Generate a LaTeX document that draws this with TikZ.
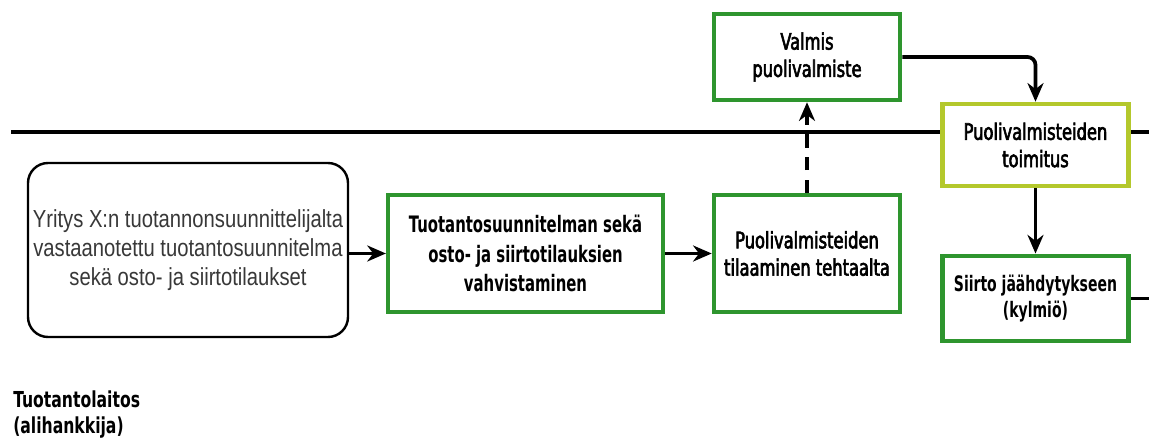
\documentclass[tikz,border=0pt]{standalone}
\usepackage{fontspec}
\setmainfont{DejaVu Sans Condensed}
\newfontfamily\stepbold[FakeStretch=0.73]{DejaVu Sans Condensed Bold}
\newfontfamily\labelbold[FakeStretch=0.79]{DejaVu Sans Condensed Bold}
\newfontfamily\stepmed[FakeStretch=0.80, FakeBold=2.6]{DejaVu Sans Condensed}
\newfontfamily\narrowfont[FakeStretch=0.82]{Liberation Sans}
\usetikzlibrary{arrows.meta}
\definecolor{boxgreen}{HTML}{2E952E}
\definecolor{limegreen}{HTML}{B4C82C}
\definecolor{plantext}{HTML}{383838}
\tikzset{
  stepbox/.style={draw=boxgreen, line width=3.4pt, fill=white, align=center,
    inner sep=1pt, font=\stepmed\fontsize{17}{20.5}\selectfont},
  boldstep/.style={stepbox, font=\stepbold\fontsize{17}{22}\selectfont},
  limebox/.style={stepbox, draw=limegreen},
  sourcebox/.style={draw=black, line width=1.8pt, rounded corners=15pt, fill=white,
    align=center, text=plantext, font=\narrowfont\fontsize{18.5}{22}\selectfont},
  flow/.style={line width=2.8pt, -{Stealth[length=14pt,width=12pt,inset=4.5pt]}},
  lane/.style={line width=2.3pt},
}
\begin{document}
\begin{tikzpicture}[x=0.75pt, y=-0.75pt]
  \useasboundingbox (0,0) rectangle (1149,448);
  \coordinate (laneL) at (11,132);
  \coordinate (laneR) at (1149,132);
  \coordinate (outR) at (1149,302);

  % swimlane divider
  \draw[lane] (laneL) -- (942,132);
  \draw[lane] (1128,132) -- (laneR);

  \node[sourcebox, minimum width=240pt, minimum height=130.5pt] (plan) at (188,250)
    {Yritys X:n tuotannonsuunnittelijalta\\vastaanotettu tuotantosuunnitelma\\sekä osto- ja siirtotilaukset};
  \node[boldstep, minimum width=206pt, minimum height=87.5pt] (confirm) at (525.5,253.5)
    {Tuotantosuunnitelman sekä\\osto- ja siirtotilauksien\\vahvistaminen};
  \node[stepbox, minimum width=139.5pt, minimum height=87.5pt] (order) at (807,253.5)
    {Puolivalmisteiden\\tilaaminen tehtaalta};
  \node[stepbox, minimum width=139.5pt, minimum height=64.5pt] (ready) at (807,57)
    {Valmis\\puolivalmiste};
  \node[limebox, minimum width=139.5pt, minimum height=61.5pt] (deliver) at (1035.5,145)
    {Puolivalmisteiden\\toimitus};
  \node[boldstep, minimum width=139.5pt, minimum height=64pt,
        font=\stepbold\fontsize{16}{19}\selectfont] (cool) at (1035.5,298.5)
    {Siirto jäähdytykseen\\(kylmiö)};

  \node[anchor=north west, align=left, inner sep=0pt,
        font=\labelbold\fontsize{16.5}{19}\selectfont] (plant) at (13,391)
    {Tuotantolaitos\\(alihankkija)};

  % connectors
  \draw[flow] (plan.east |- confirm.west) -- (confirm.west);
  \draw[flow] (confirm) -- (order);
  \draw[flow, dashed, dash pattern=on 10pt off 7pt] (order) -- (ready);
  \draw[flow, rounded corners=6pt] (ready.east) -| (deliver.north);
  \draw[flow] (deliver) -- (cool);
  \draw[lane] (cool.east) -- (cool.east -| outR);
\end{tikzpicture}
\end{document}
